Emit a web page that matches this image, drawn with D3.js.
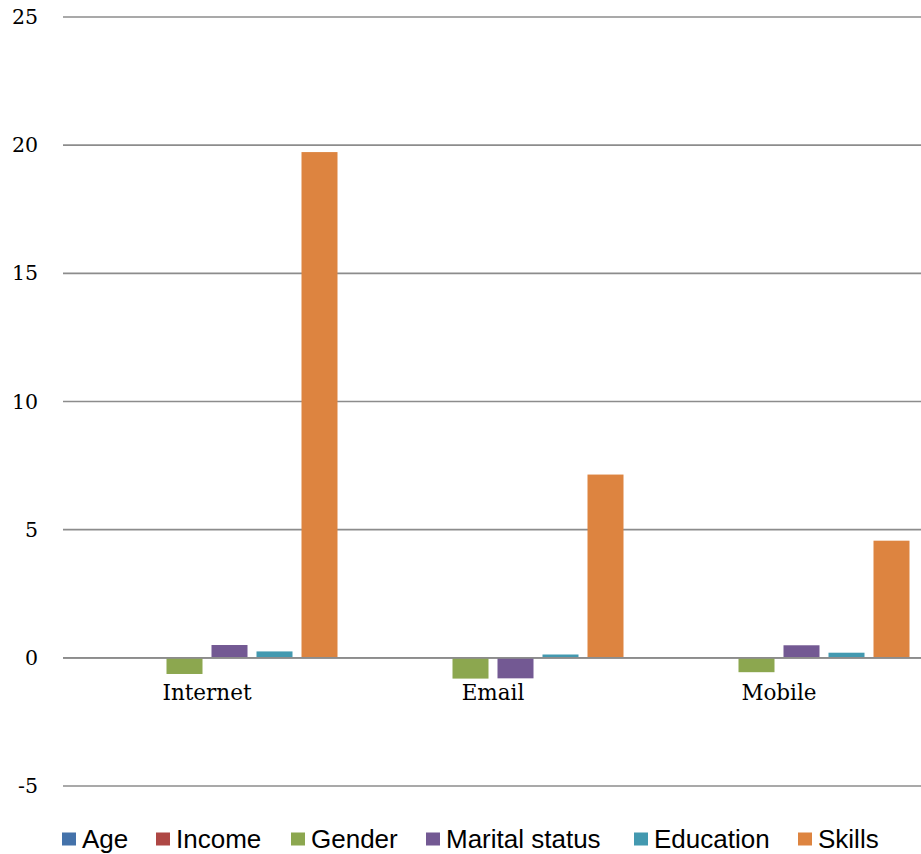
<!DOCTYPE html>
<html>
<head>
<meta charset="utf-8">
<script src="https://cdn.jsdelivr.net/npm/d3@7"></script>
<style>
  html, body { margin: 0; padding: 0; background: #fff; }
  svg { display: block; }
</style>
</head>
<body>
<svg id="chart" width="921" height="854"></svg>
<script>
// Categories and series
const categories = ["Internet", "Email", "Mobile"];
const seriesNames = ["Age", "Income", "Gender", "Marital status", "Education", "Skills"];
const seriesColors = ["#4472AA", "#AE4744", "#8CA74F", "#735993", "#4399B0", "#DD8440"];

// Values per series, in category order
const age = [0, 0, 0];
const income = [0, 0, 0];
const gender = [-0.63, -0.81, -0.56];
const marital = [0.5, -0.8, 0.49];
const education = [0.25, 0.13, 0.2];
const skills = [19.73, 7.15, 4.57];

const yTicks = [-5, 0, 5, 10, 15, 20, 25];

const seriesValues = [age, income, gender, marital, education, skills];

const svg = d3.select("#chart");
const plotLeft = 64, plotRight = 922, plotTop = 17, plotBottom = 786;

const y = d3.scaleLinear().domain([-5, 25]).range([plotBottom, plotTop]);
const x0 = d3.scaleBand().domain(categories).range([plotLeft, plotRight]).padding(0);
const groupPad = 12.5;
const x1 = d3.scaleBand().domain(seriesNames)
  .range([groupPad, x0.bandwidth() - groupPad])
  .paddingInner(0.2).paddingOuter(0);

// Gridlines
svg.append("g").selectAll("line")
  .data(yTicks)
  .join("line")
  .attr("x1", plotLeft - 1).attr("x2", 921)
  .attr("y1", d => y(d)).attr("y2", d => y(d))
  .attr("stroke", "#8c8c8c")
  .attr("stroke-width", 1.6);

// Y axis labels
svg.append("g").selectAll("text")
  .data(yTicks)
  .join("text")
  .attr("x", 38)
  .attr("y", d => y(d) + 7)
  .attr("text-anchor", "end")
  .attr("font-family", "DejaVu Serif")
  .attr("font-size", 20.5)
  .attr("fill", "#000")
  .text(d => d);

// Bars
const rows = [];
seriesNames.forEach((s, i) => {
  categories.forEach((c, j) => {
    rows.push({ series: s, cat: c, value: seriesValues[i][j], color: seriesColors[i] });
  });
});

svg.append("g").selectAll("rect")
  .data(rows.filter(d => d.value !== 0))
  .join("rect")
  .attr("x", d => x0(d.cat) + x1(d.series))
  .attr("width", x1.bandwidth())
  .attr("y", d => Math.min(y(d.value), y(0)))
  .attr("height", d => Math.abs(y(d.value) - y(0)))
  .attr("fill", d => d.color);

// Zero line drawn above bars
svg.append("line")
  .attr("x1", plotLeft - 1).attr("x2", 921)
  .attr("y1", y(0)).attr("y2", y(0))
  .attr("stroke", "#8c8c8c")
  .attr("stroke-width", 1.6);

// Category labels
svg.append("g").selectAll("text")
  .data(categories)
  .join("text")
  .attr("x", d => x0(d) + x0.bandwidth() / 2)
  .attr("y", y(0) + 42)
  .attr("text-anchor", "middle")
  .attr("font-family", "DejaVu Serif")
  .attr("font-size", 21.5)
  .attr("fill", "#000")
  .text(d => d);

// Legend
const legendX = [62, 156, 291, 426, 634, 798];
const legend = svg.append("g");
seriesNames.forEach((s, i) => {
  legend.append("rect")
    .attr("x", legendX[i]).attr("y", 832.5)
    .attr("width", 14).attr("height", 13)
    .attr("fill", seriesColors[i]);
  legend.append("text")
    .attr("x", legendX[i] + 20)
    .attr("y", 848)
    .attr("font-family", "Liberation Sans, Arial, sans-serif")
    .attr("font-size", 26)
    .attr("fill", "#000")
    .text(s);
});
</script>
</body>
</html>
